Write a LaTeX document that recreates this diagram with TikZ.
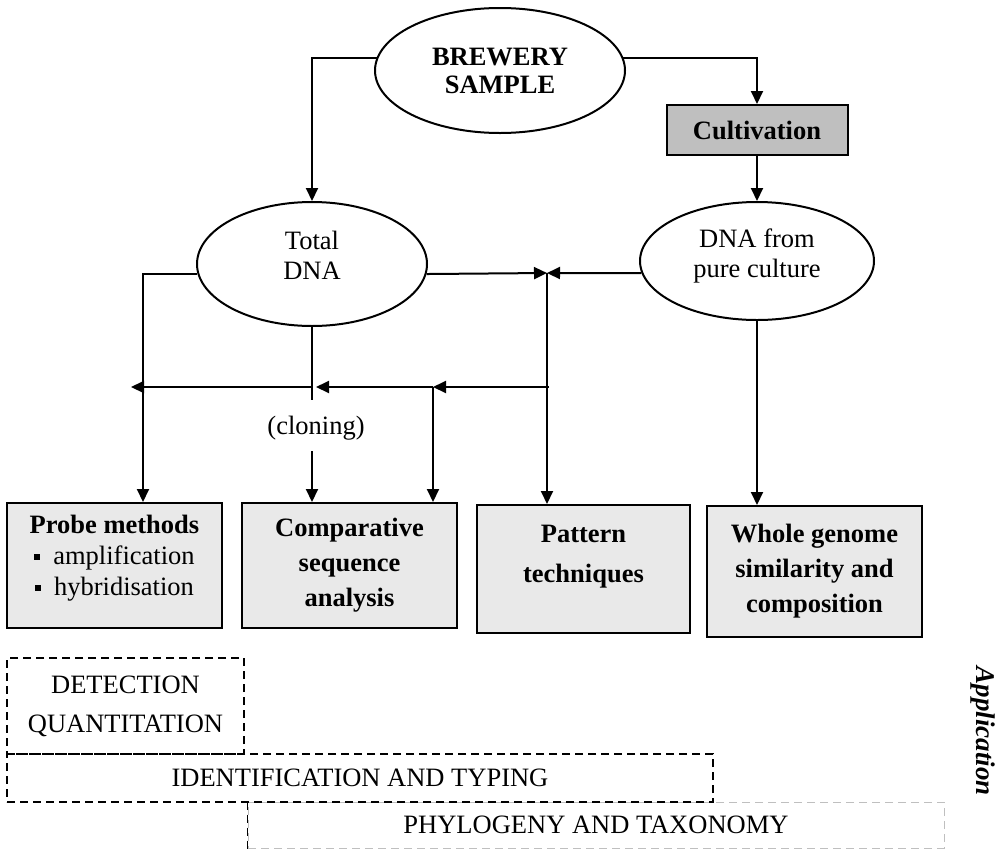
\documentclass[tikz,border=0pt]{standalone}
\usepackage{fontspec}
\setmainfont{Liberation Serif}
\usetikzlibrary{shapes.geometric,arrows.meta,calc}
\newcommand{\sqbul}{\rule[0.18em]{6pt}{6pt}\hspace{13pt}}

\begin{document}
\begin{tikzpicture}[x=1pt,y=-1pt,line width=2pt]
% Styles
\tikzset{
    every node/.style={font=\fontsize{26.5}{30}\selectfont},
    oval/.style={draw,ellipse,inner sep=0pt,align=center},
    method/.style={draw,fill=gray!17,align=center,inner sep=0pt,font=\fontsize{26.5}{35}\selectfont\bfseries},
    methodtxt/.style={align=center,font=\fontsize{26.5}{31}\selectfont\bfseries},
    area/.style={draw,dash pattern=on 8pt off 5pt,line width=1.7pt,inner sep=0pt,align=center,font=\fontsize{26.5}{39}\selectfont},
    link/.style={-{Triangle[length=13pt,width=12pt]}}
}
\useasboundingbox (0,0) rectangle (1007,849);

% Sample and cultivation
\node[oval,minimum width=250pt,minimum height=125pt,font=\fontsize{26.5}{28}\selectfont\bfseries] (brewery) at (500,70.5) {BREWERY\\SAMPLE};
\node[draw,fill=gray!50,minimum width=181pt,minimum height=50pt,font=\fontsize{26.5}{31}\selectfont\bfseries] (cult) at (757,130) {Cultivation};

% DNA
\node[oval,minimum width=230pt,minimum height=124pt] (totaldna) at (312,264) {};
\node[align=center] (totaldnatxt) at (312,255) {Total\\DNA};
\node[oval,minimum width=234pt,minimum height=118pt] (dnapure) at (757,261) {};
\node[align=center] (dnapuretxt) at (757,256) {DNA from\\pure culture};

% Methods
\node[method,minimum width=215pt,minimum height=125pt] (probe) at (114.5,565.5) {};
\node[methodtxt] (probetxt) at (114.5,558) {Probe methods\\{\mdseries\sqbul amplification}\\{\mdseries\sqbul hybridisation}};
\node[method,minimum width=215pt,minimum height=125pt] (comp) at (349.5,565.5) {Comparative\\sequence\\analysis};
\node[method,minimum width=213pt,minimum height=128pt] (pattern) at (583.5,569) {};
\node[methodtxt,font=\fontsize{26.5}{40}\selectfont\bfseries] (patterntxt) at (583.5,557) {Pattern\\techniques};
\node[method,minimum width=215pt,minimum height=131pt] (whole) at (814.5,571.5) {Whole genome\\similarity and\\composition};

% Applications
\node[area,draw=gray!50,line width=1pt,minimum width=696pt,minimum height=46pt] (phylo) at (596,825) {PHYLOGENY AND TAXONOMY};
\draw[dash pattern=on 8pt off 5pt,line width=1.7pt] (phylo.north west) -- (phylo.south west);
\node[area,minimum width=706pt,minimum height=48pt] (ident) at (360,778) {IDENTIFICATION AND TYPING};
\node[area,minimum width=237pt,minimum height=96pt] (detect) at (125.5,706) {DETECTION\\QUANTITATION};
\node[rotate=-90,font=\fontsize{27}{31}\selectfont\bfseries\itshape] (appl) at (983,731) {Application};

% Connections
\coordinate (jn) at (547,273);
\coordinate (split) at (549,387);
\coordinate (cmp) at (433,387);
\coordinate (mid) at (totaldna.south |- split);
\coordinate (left) at (131,387);

\draw[link] (brewery.174) -| (totaldna);
\draw[link] (brewery.6) -| (cult);
\draw[link] (cult.south) -- (dnapure.north);
\draw[link] (totaldna.185) -| ([xshift=28.5pt]probe.north);
\draw[link] (totaldna.355) -- (jn);
\draw[link] (dnapure.186) -- (jn);
\draw[link] (jn) -- (jn |- pattern.north);
\draw[link] (split) -- (cmp);
\draw[link] (cmp) -- ($(mid)+(4,0)$);
\draw[link] (mid) -- (left);
\draw[link] (cmp) -- (cmp |- comp.north);
\draw (totaldna.south) -- ($(mid)+(0,13)$);
\node (clon) at (316,428) {(cloning)};
\draw[link] ($(mid)+(0,64)$) -- (mid |- comp.north);
\draw[link] (dnapure.south) -- (dnapure.south |- whole.north);
\end{tikzpicture}
\end{document}
